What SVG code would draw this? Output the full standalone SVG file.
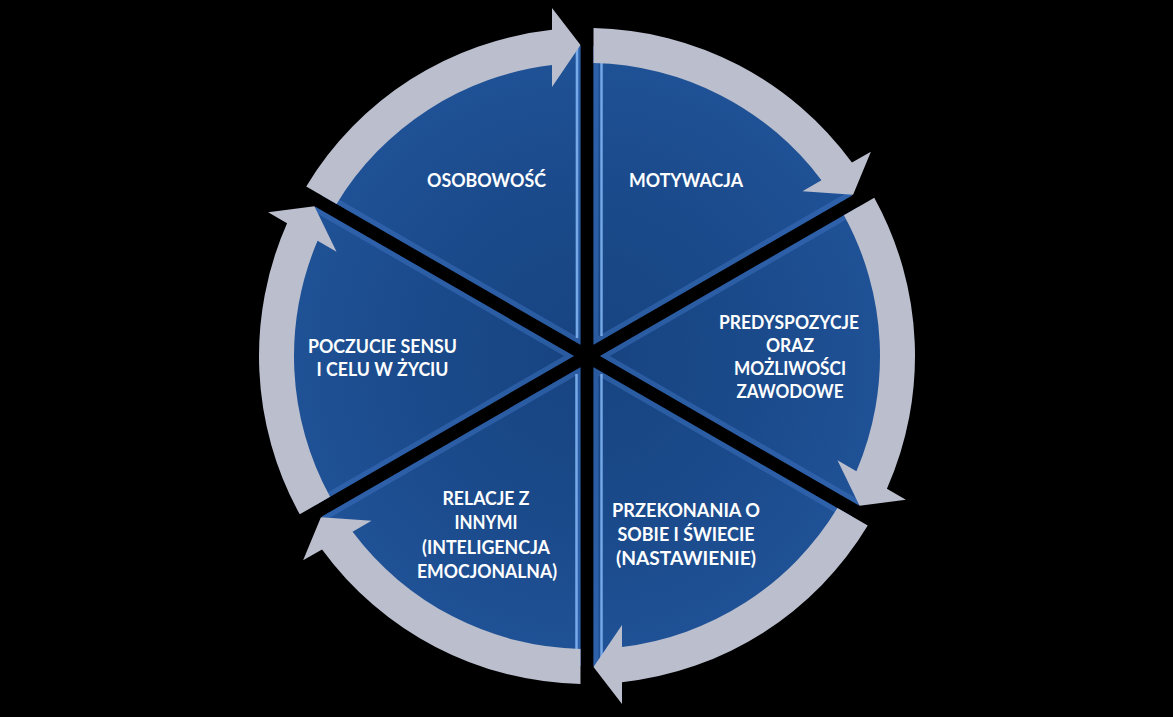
<svg xmlns="http://www.w3.org/2000/svg" xmlns:xlink="http://www.w3.org/1999/xlink" width="1173" height="717" viewBox="0 0 1173 717">
  <style>
    .lbl { font-family: Lato, "Liberation Sans", Arial, sans-serif; font-weight: 700; font-size: 18.5px; fill: #ffffff; text-anchor: middle; }
    .band { fill: #babecd; }
    .bevel { fill: none; stroke: #3b70bb; stroke-width: 10; opacity: 0.55; }
    .hl { stroke: #7eb2f0; stroke-width: 2.5; opacity: 0.9; }
  </style>
  <defs>
    <radialGradient id="blueGrad" gradientUnits="userSpaceOnUse" cx="587" cy="356" r="310">
      <stop offset="0" stop-color="#174380"/>
      <stop offset="0.6" stop-color="#1b4b8c"/>
      <stop offset="1" stop-color="#205297"/>
    </radialGradient>
    <path id="wedge" d="M 580.5,344.74 L 580.5,46.07 A 310 310 0 0 0 321.85,195.40 Z"/>
    <clipPath id="wclip"><path d="M 580.5,344.74 L 580.5,46.07 A 310 310 0 0 0 321.85,195.40 Z"/></clipPath>
    <path id="arrow" d="M 306.25,186.40 A 328 328 0 0 1 552,29.87 L 552,8 L 580.5,45 L 552,87 L 552,65.1 A 293 293 0 0 0 336.57,203.91 Z"/>
  </defs>

  <rect x="0" y="0" width="1173" height="717" fill="#000000"/>

  <g id="osobowosc">
    <g>
      <use xlink:href="#wedge" fill="url(#blueGrad)"/>
      <g clip-path="url(#wclip)"><use xlink:href="#wedge" class="bevel"/></g>
    </g>
    <line class="hl" x1="577" y1="48" x2="577" y2="338"/>
    <text class="lbl" x="486.5" y="187" textLength="119" lengthAdjust="spacingAndGlyphs">OSOBOWOŚĆ</text>
  </g>

  <g id="motywacja">
    <g transform="rotate(60 587 356)">
      <use xlink:href="#wedge" fill="url(#blueGrad)"/>
      <g clip-path="url(#wclip)"><use xlink:href="#wedge" class="bevel"/></g>
    </g>
    <line class="hl" x1="601.5" y1="62" x2="601.5" y2="336"/>
    <text class="lbl" x="686" y="187" textLength="114" lengthAdjust="spacingAndGlyphs">MOTYWACJA</text>
  </g>

  <g id="predyspozycje">
    <g transform="rotate(120 587 356)">
      <use xlink:href="#wedge" fill="url(#blueGrad)"/>
      <g clip-path="url(#wclip)"><use xlink:href="#wedge" class="bevel"/></g>
    </g>
    <text class="lbl" x="789" y="329" textLength="140" lengthAdjust="spacingAndGlyphs">PREDYSPOZYCJE</text>
    <text class="lbl" x="790" y="352" textLength="48" lengthAdjust="spacingAndGlyphs">ORAZ</text>
    <text class="lbl" x="790" y="375" textLength="112" lengthAdjust="spacingAndGlyphs">MOŻLIWOŚCI</text>
    <text class="lbl" x="790" y="398" textLength="107" lengthAdjust="spacingAndGlyphs">ZAWODOWE</text>
  </g>

  <g id="przekonania">
    <g transform="rotate(180 587 356)">
      <use xlink:href="#wedge" fill="url(#blueGrad)"/>
      <g clip-path="url(#wclip)"><use xlink:href="#wedge" class="bevel"/></g>
    </g>
    <line class="hl" x1="601.5" y1="374" x2="601.5" y2="664"/>
    <text class="lbl" x="686" y="517" textLength="148" lengthAdjust="spacingAndGlyphs">PRZEKONANIA O</text>
    <text class="lbl" x="686" y="541" textLength="137" lengthAdjust="spacingAndGlyphs">SOBIE I ŚWIECIE</text>
    <text class="lbl" x="686" y="565" textLength="140" lengthAdjust="spacingAndGlyphs">(NASTAWIENIE)</text>
  </g>

  <g id="relacje">
    <g transform="rotate(240 587 356)">
      <use xlink:href="#wedge" fill="url(#blueGrad)"/>
      <g clip-path="url(#wclip)"><use xlink:href="#wedge" class="bevel"/></g>
    </g>
    <line class="hl" x1="576.5" y1="374" x2="576.5" y2="650"/>
    <text class="lbl" x="486" y="505" textLength="87" lengthAdjust="spacingAndGlyphs">RELACJE Z</text>
    <text class="lbl" x="486" y="529" textLength="63" lengthAdjust="spacingAndGlyphs">INNYMI</text>
    <text class="lbl" x="486" y="554" textLength="128" lengthAdjust="spacingAndGlyphs">(INTELIGENCJA</text>
    <text class="lbl" x="487" y="578" textLength="140" lengthAdjust="spacingAndGlyphs">EMOCJONALNA)</text>
  </g>

  <g id="poczucie">
    <g transform="rotate(300 587 356)">
      <use xlink:href="#wedge" fill="url(#blueGrad)"/>
      <g clip-path="url(#wclip)"><use xlink:href="#wedge" class="bevel"/></g>
    </g>
    <text class="lbl" x="382.5" y="353" textLength="149" lengthAdjust="spacingAndGlyphs">POCZUCIE SENSU</text>
    <text class="lbl" x="382.5" y="376" textLength="132" lengthAdjust="spacingAndGlyphs">I CELU W ŻYCIU</text>
  </g>

  <g id="connectors">
    <use xlink:href="#arrow" class="band"/>
    <use xlink:href="#arrow" class="band" transform="rotate(60 587 356)"/>
    <use xlink:href="#arrow" class="band" transform="rotate(120 587 356)"/>
    <use xlink:href="#arrow" class="band" transform="rotate(180 587 356)"/>
    <use xlink:href="#arrow" class="band" transform="rotate(240 587 356)"/>
    <use xlink:href="#arrow" class="band" transform="rotate(300 587 356)"/>
  </g>
</svg>
